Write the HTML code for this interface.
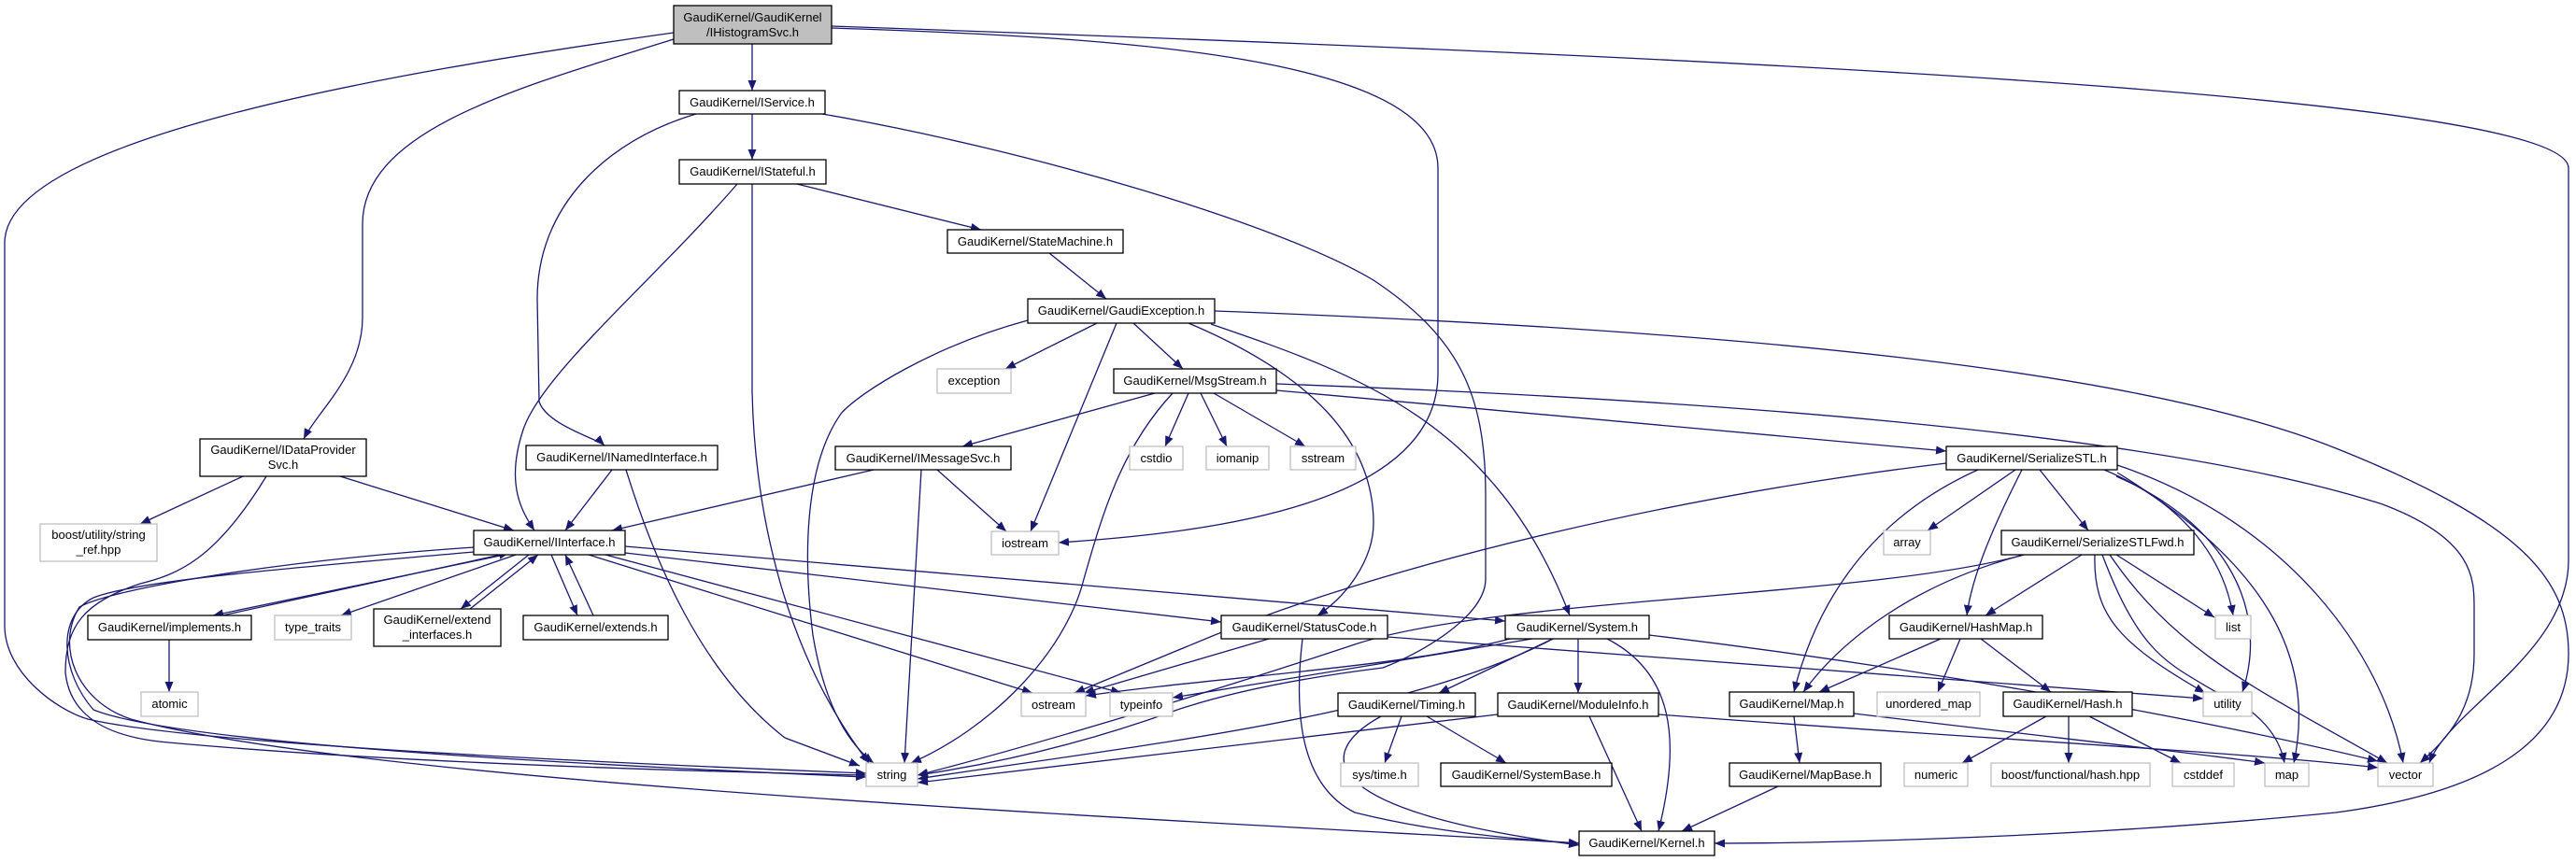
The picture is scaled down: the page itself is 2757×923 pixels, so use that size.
<!DOCTYPE html>
<html><head><meta charset="utf-8"><style>
html,body{margin:0;padding:0;background:#fff;}
svg{display:block;}
text{font-family:"Liberation Sans",Arial,sans-serif;font-size:13px;fill:#000;text-anchor:middle;}
.n{fill:#fff;stroke:#000;stroke-width:1.3;}
.g{fill:#fff;stroke:#bfbfbf;stroke-width:1.3;}
.e{fill:none;stroke:#191970;stroke-width:1.3;marker-end:url(#a);}
</style></head><body>
<svg width="2757" height="923" viewBox="0 0 2757 923" xmlns="http://www.w3.org/2000/svg">
<defs><marker id="a" markerUnits="userSpaceOnUse" markerWidth="12" markerHeight="9" refX="11" refY="4.5" orient="auto"><path d="M0,0 L11,4.5 L0,9 z" fill="#191970"/></marker></defs>
<g>
<path class="e" d="M805,47 L805,97"/>
<path class="e" d="M721,42 C550,95 388,140 388,240 L388,340 C388,400 340,440 325,470"/>
<path class="e" d="M721,35 C400,80 5,150 5,260 L5,670 C5,720 60,760 94,770 C200,795 600,815 927,828"/>
<path class="e" d="M890,30 C1200,40 1539,60 1539,180 L1539,400 C1539,540 1300,570 1133,581"/>
<path class="e" d="M890,28 C1800,60 2749,100 2749,180 L2749,600 C2749,700 2620,760 2600,817"/>
<path class="e" d="M805,122 L805,171"/>
<path class="e" d="M745,122 C650,150 575,220 575,320 L577,430 C585,455 640,470 647,477"/>
<path class="e" d="M880,122 C1100,160 1370,240 1470,300 C1560,360 1590,420 1590,530 L1590,620 C1590,660 1520,700 1480,715 C1400,725 1320,740 1260,760 C1150,800 1050,820 982,830"/>
<path class="e" d="M853,197 L1050,246"/>
<path class="e" d="M789,197 C700,300 580,400 560,460 C540,520 560,550 572,568"/>
<path class="e" d="M805,197 L805,420 C808,550 840,700 930,817"/>
<path class="e" d="M1123,271 L1184,320"/>
<path class="e" d="M1174,346 L1076,395"/>
<path class="e" d="M1213,346 L1266,395"/>
<path class="e" d="M1195,346 L1103,569"/>
<path class="e" d="M1100,343 C1000,370 920,420 900,443 C860,500 860,600 870,680 C880,740 900,790 935,817"/>
<path class="e" d="M1272,346 C1400,400 1470,470 1470,560 C1470,600 1440,640 1410,659"/>
<path class="e" d="M1296,347 C1450,400 1600,450 1680,659"/>
<path class="e" d="M1300,333 C1900,355 2300,400 2500,480 C2700,560 2749,620 2749,700 C2749,800 2650,850 2500,870 C2200,900 1900,903 1835,903"/>
<path class="e" d="M1236,421 L1030,478"/>
<path class="e" d="M1272,421 L1247,478"/>
<path class="e" d="M1285,421 L1313,478"/>
<path class="e" d="M1299,421 L1397,478"/>
<path class="e" d="M1255,421 C1200,480 1180,550 1160,620 C1140,700 1060,780 975,817"/>
<path class="e" d="M1366,418 L2083,483"/>
<path class="e" d="M1366,411 C1800,427 2300,460 2550,540 C2648,577 2648,620 2648,650 L2648,700 C2648,760 2620,790 2590,817"/>
<path class="e" d="M935,503 L655,568"/>
<path class="e" d="M1003,503 L1077,569"/>
<path class="e" d="M986,503 L968,817"/>
<path class="e" d="M260,510 L150,561"/>
<path class="e" d="M364,510 L550,568"/>
<path class="e" d="M285,510 C230,600 190,615 150,625 C90,645 70,670 70,720 C75,770 120,790 180,795 C400,815 700,825 927,830"/>
<path class="e" d="M655,503 L605,568"/>
<path class="e" d="M670,503 C700,600 750,720 840,790 L920,820"/>
<path class="e" d="M540,594 L228,659"/>
<path class="e" d="M238,659 L545,592"/>
<path class="e" d="M552,594 L365,659"/>
<path class="e" d="M566,594 L493,652"/>
<path class="e" d="M503,652 L576,594"/>
<path class="e" d="M590,594 L618,659"/>
<path class="e" d="M635,659 L605,594"/>
<path class="e" d="M507,591 C350,605 150,620 100,640 C60,660 65,720 100,760 C200,800 700,822 927,832"/>
<path class="e" d="M507,586 C300,600 120,630 85,650 C60,690 80,750 140,770 C400,840 1300,880 1690,903"/>
<path class="e" d="M630,594 L1105,742"/>
<path class="e" d="M648,594 L1200,742"/>
<path class="e" d="M669,592 L1307,666"/>
<path class="e" d="M669,585 L1611,665"/>
<path class="e" d="M181,685 L181,741"/>
<path class="e" d="M1358,684 L1160,742"/>
<path class="e" d="M1394,684 C1385,760 1390,840 1450,870 C1550,895 1650,900 1690,903"/>
<path class="e" d="M1485,682 L2358,748"/>
<path class="e" d="M1616,684 C1500,715 1300,725 1162,745"/>
<path class="e" d="M1640,684 L1255,747"/>
<path class="e" d="M1662,684 C1500,770 1200,800 982,834"/>
<path class="e" d="M1662,684 L1540,742"/>
<path class="e" d="M1689,684 L1689,742"/>
<path class="e" d="M1720,684 C1790,720 1800,790 1775,890"/>
<path class="e" d="M1765,680 C2100,720 2400,780 2545,815"/>
<path class="e" d="M1500,767 L1482,817"/>
<path class="e" d="M1527,767 L1612,817"/>
<path class="e" d="M1478,767 C1400,810 1420,870 1690,905"/>
<path class="e" d="M1603,765 L982,838"/>
<path class="e" d="M1701,767 L1757,890"/>
<path class="e" d="M1775,765 C2100,790 2400,805 2545,822"/>
<path class="e" d="M2083,496 C1800,530 1500,600 1300,680 L1150,742"/>
<path class="e" d="M2157,503 L2063,568"/>
<path class="e" d="M2183,503 L2235,568"/>
<path class="e" d="M2164,503 C2130,570 2110,620 2105,659"/>
<path class="e" d="M2117,503 C1990,560 1940,660 1920,741"/>
<path class="e" d="M2252,503 C2340,540 2380,600 2390,659"/>
<path class="e" d="M2265,510 C2380,560 2430,650 2400,741"/>
<path class="e" d="M2266,506 C2420,600 2480,700 2455,817"/>
<path class="e" d="M2266,498 C2450,560 2550,700 2572,817"/>
<path class="e" d="M2228,594 L2125,659"/>
<path class="e" d="M2166,594 C2030,630 1960,700 1930,741"/>
<path class="e" d="M2166,594 C2000,640 1600,640 1450,690 C1300,740 1100,800 982,830"/>
<path class="e" d="M2265,594 L2370,661"/>
<path class="e" d="M2242,594 C2240,660 2270,690 2360,742"/>
<path class="e" d="M2250,594 C2290,700 2320,710 2370,740 C2420,760 2440,790 2445,817"/>
<path class="e" d="M2258,594 C2330,700 2420,740 2555,817"/>
<path class="e" d="M2077,684 L1947,741"/>
<path class="e" d="M2098,684 L2074,741"/>
<path class="e" d="M2120,684 L2195,741"/>
<path class="e" d="M2190,767 L2100,817"/>
<path class="e" d="M2214,767 L2214,817"/>
<path class="e" d="M2236,767 L2334,817"/>
<path class="e" d="M1920,767 L1926,817"/>
<path class="e" d="M1984,764 C2200,790 2380,810 2424,817"/>
<path class="e" d="M1903,842 L1800,890"/>
</g>
<g>
<rect x="721" y="6" width="169" height="41" style="fill:#bfbfbf;stroke:#000;stroke-width:1.3"/>
<text x="805.5" y="23">GaudiKernel/GaudiKernel</text><text x="805.5" y="39">/IHistogramSvc.h</text>
<rect class="n" x="727" y="97" width="156" height="25"/><text x="805" y="114">GaudiKernel/IService.h</text>
<rect class="n" x="727" y="171" width="157" height="26"/><text x="805.5" y="188">GaudiKernel/IStateful.h</text>
<rect class="n" x="1014" y="246" width="188" height="25"/><text x="1108" y="263">GaudiKernel/StateMachine.h</text>
<rect class="n" x="1100" y="320" width="200" height="26"/><text x="1200" y="337">GaudiKernel/GaudiException.h</text>
<rect class="g" x="1003" y="395" width="79" height="26"/><text x="1042.5" y="412">exception</text>
<rect class="n" x="1192" y="395" width="174" height="26"/><text x="1279" y="412">GaudiKernel/MsgStream.h</text>
<rect class="n" x="214" y="470" width="178" height="40"/><text x="303" y="486">GaudiKernel/IDataProvider</text><text x="303" y="502">Svc.h</text>
<rect class="n" x="563" y="477" width="205" height="26"/><text x="665.5" y="494">GaudiKernel/INamedInterface.h</text>
<rect class="n" x="894" y="478" width="188" height="25"/><text x="988" y="495">GaudiKernel/IMessageSvc.h</text>
<rect class="g" x="1209" y="478" width="57" height="25"/><text x="1237.5" y="495">cstdio</text>
<rect class="g" x="1291" y="478" width="67" height="25"/><text x="1324.5" y="495">iomanip</text>
<rect class="g" x="1381" y="478" width="70" height="25"/><text x="1416" y="495">sstream</text>
<rect class="n" x="2083" y="478" width="183" height="25"/><text x="2174.5" y="495">GaudiKernel/SerializeSTL.h</text>
<rect class="g" x="43" y="561" width="125" height="40"/><text x="105.5" y="577">boost/utility/string</text><text x="105.5" y="593">_ref.hpp</text>
<rect class="n" x="507" y="568" width="162" height="26"/><text x="588" y="585">GaudiKernel/IInterface.h</text>
<rect class="g" x="1061" y="569" width="72" height="25"/><text x="1097" y="586">iostream</text>
<rect class="g" x="2016" y="568" width="50" height="26"/><text x="2041" y="585">array</text>
<rect class="n" x="2142" y="568" width="206" height="26"/><text x="2245" y="585">GaudiKernel/SerializeSTLFwd.h</text>
<rect class="n" x="94" y="659" width="175" height="26"/><text x="181.5" y="676">GaudiKernel/implements.h</text>
<rect class="g" x="294" y="659" width="82" height="26"/><text x="335" y="676">type_traits</text>
<rect class="n" x="400" y="652" width="136" height="40"/><text x="468" y="668">GaudiKernel/extend</text><text x="468" y="684">_interfaces.h</text>
<rect class="n" x="560" y="659" width="155" height="26"/><text x="637.5" y="676">GaudiKernel/extends.h</text>
<rect class="n" x="1307" y="659" width="178" height="25"/><text x="1396" y="676">GaudiKernel/StatusCode.h</text>
<rect class="n" x="1611" y="659" width="154" height="25"/><text x="1688" y="676">GaudiKernel/System.h</text>
<rect class="g" x="2371" y="659" width="38" height="25"/><text x="2390" y="676">list</text>
<rect class="n" x="2022" y="659" width="164" height="25"/><text x="2104" y="676">GaudiKernel/HashMap.h</text>
<rect class="g" x="151" y="741" width="61" height="26"/><text x="181.5" y="758">atomic</text>
<rect class="g" x="1093" y="742" width="69" height="25"/><text x="1127.5" y="759">ostream</text>
<rect class="g" x="1188" y="742" width="67" height="25"/><text x="1221.5" y="759">typeinfo</text>
<rect class="n" x="1432" y="742" width="147" height="25"/><text x="1505.5" y="759">GaudiKernel/Timing.h</text>
<rect class="n" x="1603" y="742" width="172" height="25"/><text x="1689" y="759">GaudiKernel/ModuleInfo.h</text>
<rect class="n" x="1851" y="741" width="133" height="26"/><text x="1917.5" y="758">GaudiKernel/Map.h</text>
<rect class="g" x="2009" y="741" width="110" height="26"/><text x="2064" y="758">unordered_map</text>
<rect class="n" x="2144" y="741" width="138" height="26"/><text x="2213" y="758">GaudiKernel/Hash.h</text>
<rect class="g" x="2358" y="741" width="52" height="26"/><text x="2384" y="758">utility</text>
<rect class="g" x="927" y="817" width="55" height="25"/><text x="954.5" y="834">string</text>
<rect class="g" x="1435" y="817" width="83" height="25"/><text x="1476.5" y="834">sys/time.h</text>
<rect class="n" x="1542" y="817" width="183" height="25"/><text x="1633.5" y="834">GaudiKernel/SystemBase.h</text>
<rect class="n" x="1851" y="817" width="162" height="25"/><text x="1932" y="834">GaudiKernel/MapBase.h</text>
<rect class="g" x="2038" y="817" width="68" height="25"/><text x="2072" y="834">numeric</text>
<rect class="g" x="2131" y="817" width="170" height="25"/><text x="2216" y="834">boost/functional/hash.hpp</text>
<rect class="g" x="2325" y="817" width="66" height="25"/><text x="2358" y="834">cstddef</text>
<rect class="g" x="2424" y="817" width="47" height="25"/><text x="2447.5" y="834">map</text>
<rect class="g" x="2545" y="817" width="59" height="25"/><text x="2574.5" y="834">vector</text>
<rect class="n" x="1690" y="890" width="145" height="26"/><text x="1762.5" y="907">GaudiKernel/Kernel.h</text>
</g>
</svg>
</body></html>
